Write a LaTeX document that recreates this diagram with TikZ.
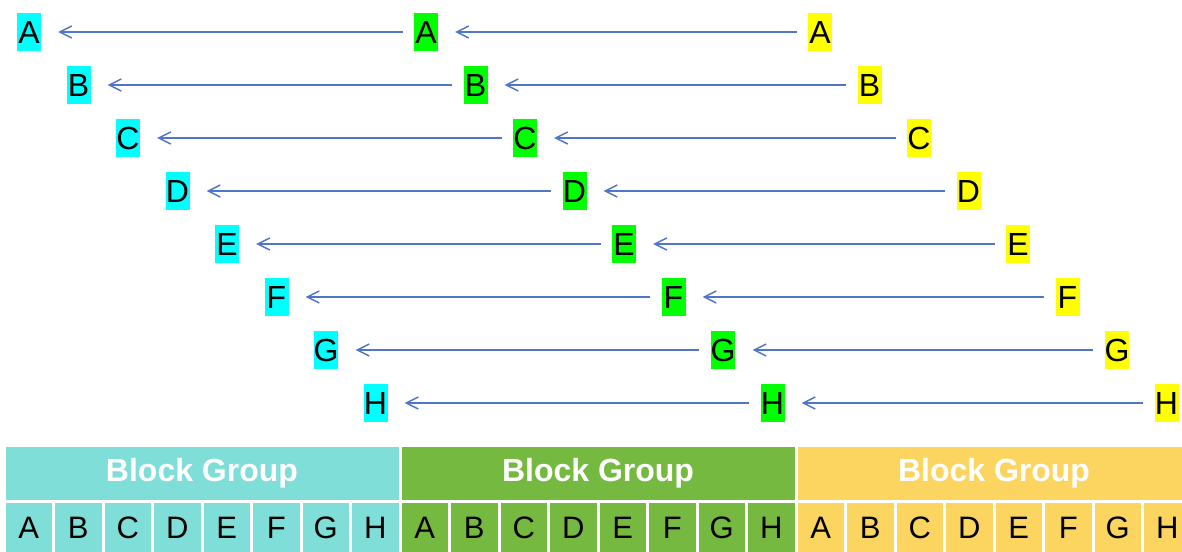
\documentclass[tikz,border=0pt]{standalone}
\usepackage{fontspec}
\setmainfont{Liberation Sans}
\usetikzlibrary{arrows.meta}
\definecolor{lcyan}{RGB}{0,255,255}
\definecolor{lgreen}{RGB}{0,255,0}
\definecolor{lyellow}{RGB}{255,255,0}
\definecolor{gcyan}{RGB}{127,222,216}
\definecolor{ggreen}{RGB}{118,185,65}
\definecolor{gyellow}{RGB}{252,213,96}
\definecolor{arrblue}{RGB}{80,118,200}
\tikzset{
  letterbox/.style={inner sep=0pt, minimum width=24pt, minimum height=38pt, text=black, font=\fontsize{32}{32}\selectfont},
  arr/.style={draw=arrblue, line width=1.4pt, -{Straight Barb[length=12pt,width=12pt,line width=1.4pt]}, shorten <=11pt, shorten >=17pt},
  header/.style={draw=white, line width=3pt, inner sep=0pt, minimum width=396pt, minimum height=56pt, text=white, font=\fontsize{32}{32}\selectfont\bfseries},
  cellbox/.style={draw=white, line width=3pt, inner sep=0pt, minimum width=49.5pt, minimum height=52pt, text=black, font=\fontsize{31}{31}\selectfont}
}
\begin{document}
\begin{tikzpicture}[x=1pt,y=-1pt]
\useasboundingbox (0,0) rectangle (1182,551);
\begin{scope}
\clip (0,0) rectangle (1182,551);
\foreach \L [count=\i from 0] in {A,B,C,D,E,F,G,H}{
  \node[letterbox, fill=lcyan] (c\L) at (29+49.5*\i, 32+53*\i) {\L};
  \node[letterbox, fill=lgreen] (g\L) at (426+49.5*\i, 32+53*\i) {\L};
  \node[letterbox, fill=lyellow] (y\L) at (820+49.5*\i, 32+53*\i) {\L};
  \draw[arr] (y\L) -- (g\L);
  \draw[arr] (g\L) -- (c\L);
}
\node[header, fill=gcyan] (h1) at (4+198, 473.5) {Block Group};
\node[header, fill=ggreen] (h2) at (400+198, 473.5) {Block Group};
\node[header, fill=gyellow] (h3) at (796+198, 473.5) {Block Group};
\foreach \L [count=\i from 0] in {A,B,C,D,E,F,G,H}{
  \node[cellbox, fill=gcyan] (bc\L) at (4+24.75+49.5*\i, 527.5) {\L};
  \node[cellbox, fill=ggreen] (bg\L) at (400+24.75+49.5*\i, 527.5) {\L};
  \node[cellbox, fill=gyellow] (by\L) at (796+24.75+49.5*\i, 527.5) {\L};
}
\end{scope}
\end{tikzpicture}
\end{document}
